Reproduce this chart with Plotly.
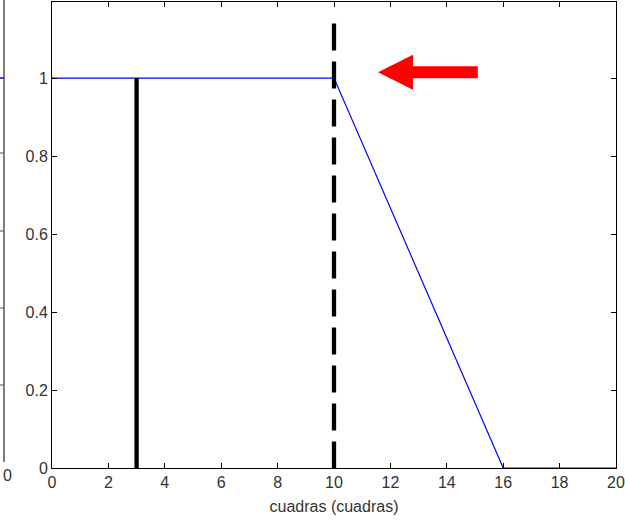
import plotly.graph_objects as go

# Data
blue_x = [0, 10, 16, 20]
blue_y = [1, 1, 0, 0]
solid_x = [3, 3]
solid_y = [0, 1]
dash_x = [10, 10]
dash_y = [1.14, 0]
x_ticks = list(range(0, 21, 2))
y_ticks = [0, 0.2, 0.4, 0.6, 0.8, 1]
y_tick_labels = ["0", "0.2", "0.4", "0.6", "0.8", "1"]
x_label = "cuadras (cuadras)"

# Arrow (annotation) geometry in data units
arrow_tip = (11.56, 1.015)
arrow_head_x = 12.8
arrow_tail_x = 15.1
arrow_head_half = 0.045
arrow_shaft_half = 0.0155

fig = go.Figure()
fig.add_trace(go.Scatter(x=blue_x, y=blue_y, mode="lines", cliponaxis=False,
                         line=dict(color="#0000ff", width=1.2), hoverinfo="skip"))
fig.add_trace(go.Scatter(x=solid_x, y=solid_y, mode="lines",
                         line=dict(color="black", width=4.3), hoverinfo="skip"))
fig.add_trace(go.Scatter(x=dash_x, y=dash_y, mode="lines",
                         line=dict(color="black", width=4.3, dash="27px,11px"), hoverinfo="skip"))

tx, ty = arrow_tip
path = (f"M {tx},{ty} L {arrow_head_x},{ty+arrow_head_half} L {arrow_head_x},{ty+arrow_shaft_half} "
        f"L {arrow_tail_x},{ty+arrow_shaft_half} L {arrow_tail_x},{ty-arrow_shaft_half} "
        f"L {arrow_head_x},{ty-arrow_shaft_half} L {arrow_head_x},{ty-arrow_head_half} Z")
fig.add_shape(type="path", path=path, xref="x", yref="y",
              fillcolor="#ff0000", line=dict(color="#ff0000", width=0))

# Remnant of neighbouring axes on the left (paper coords)
W, H = 564, 466
def px(x):
    return (x - 52) / W
def py(y):
    return (468 - y) / H

fig.add_shape(type="line", xref="paper", yref="paper",
              x0=px(4), x1=px(4), y0=py(0), y1=py(462),
              line=dict(color="#555555", width=1.5))
for yy in [153, 231, 308, 385]:
    fig.add_shape(type="line", xref="paper", yref="paper",
                  x0=px(0), x1=px(4), y0=py(yy), y1=py(yy),
                  line=dict(color="#555555", width=1))
fig.add_shape(type="line", xref="paper", yref="paper",
              x0=px(0), x1=px(4), y0=py(78), y1=py(78),
              line=dict(color="#0000ff", width=1.5))
fig.add_annotation(text="0", xref="paper", yref="paper", x=px(7), y=py(476),
                   xanchor="center", yanchor="middle",
                   showarrow=False, font=dict(family="Liberation Sans, Arial", size=16, color="#333"))

tick_font = dict(family="Liberation Sans, Arial", size=16, color="#333")

fig.update_layout(
    width=625, height=520,
    margin=dict(l=52, r=9, t=2, b=52, autoexpand=False),
    plot_bgcolor="white", paper_bgcolor="white",
    showlegend=False,
    font=dict(family="Liberation Sans, Arial", size=16, color="#333"),
)
fig.update_xaxes(range=[0, 20], tickvals=x_ticks, ticks="inside", ticklen=5,
                 tickcolor="black", showline=True, linecolor="black", linewidth=1,
                 mirror="ticks", showgrid=False, zeroline=False, automargin=False,
                 tickfont=tick_font,
                 title=dict(text=x_label, font=dict(family="Liberation Sans, Arial", size=16, color="#333"), standoff=10))
fig.update_yaxes(range=[0, 1.195], tickvals=y_ticks, ticktext=y_tick_labels,
                 ticks="inside", ticklen=5, tickcolor="black", showline=True,
                 linecolor="black", linewidth=1, mirror="ticks", showgrid=False,
                 zeroline=False, automargin=False, tickfont=tick_font)

fig.write_html("out.html", config={"displayModeBar": False},
               post_script="document.body.style.margin='0';")
